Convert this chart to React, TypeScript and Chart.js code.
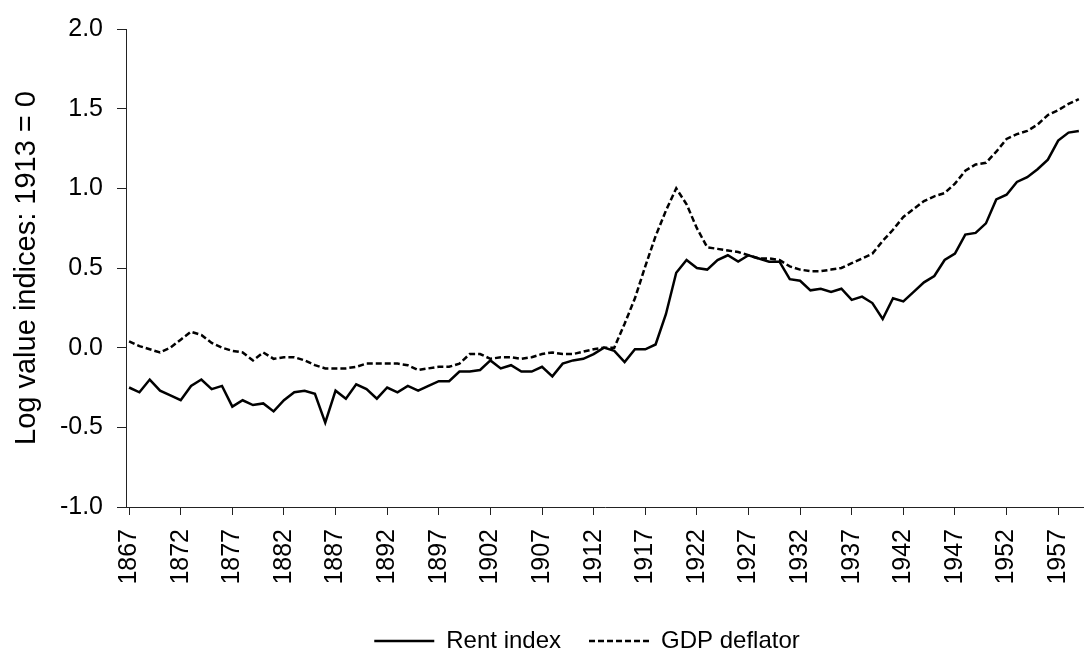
import React, { useEffect, useRef } from "react";
import { Chart, registerables } from "chart.js";

Chart.register(...registerables);

const years: number[] = Array.from({ length: 93 }, (_, i) => 1867 + i);

const rentIndex: number[] = [
  -0.25, -0.28, -0.2, -0.27, -0.3, -0.33, -0.24, -0.2, -0.26, -0.24,
  -0.37, -0.33, -0.36, -0.35, -0.4, -0.33, -0.28, -0.27, -0.29, -0.47,
  -0.27, -0.32, -0.23, -0.26, -0.32, -0.25, -0.28, -0.24, -0.27, -0.24,
  -0.21, -0.21, -0.15, -0.15, -0.14, -0.08, -0.13, -0.11, -0.15, -0.15,
  -0.12, -0.18, -0.1, -0.08, -0.07, -0.04, 0.0, -0.02, -0.09, -0.01,
  -0.01, 0.02, 0.21, 0.47, 0.55, 0.5, 0.49, 0.55, 0.58, 0.54,
  0.58, 0.56, 0.54, 0.54, 0.43, 0.42, 0.36, 0.37, 0.35, 0.37,
  0.3, 0.32, 0.28, 0.18, 0.31, 0.29, 0.35, 0.41, 0.45, 0.55,
  0.59, 0.71, 0.72, 0.78, 0.93, 0.96, 1.04, 1.07, 1.12, 1.18,
  1.3, 1.35, 1.36,
];

const gdpDeflator: number[] = [
  0.04, 0.01, -0.01, -0.03, 0.0, 0.05, 0.1, 0.08, 0.03, 0.0,
  -0.02, -0.03, -0.08, -0.03, -0.07, -0.06, -0.06, -0.08, -0.11, -0.13,
  -0.13, -0.13, -0.12, -0.1, -0.1, -0.1, -0.1, -0.11, -0.14, -0.13,
  -0.12, -0.12, -0.1, -0.04, -0.04, -0.07, -0.06, -0.06, -0.07, -0.06,
  -0.04, -0.03, -0.04, -0.04, -0.025, -0.01, 0.0, 0.0, 0.15, 0.31,
  0.51, 0.7, 0.86, 1.0, 0.9, 0.75, 0.63, 0.62, 0.61, 0.6,
  0.58, 0.56, 0.56, 0.55, 0.51, 0.49, 0.48, 0.48, 0.49, 0.5,
  0.53, 0.56, 0.59, 0.67, 0.74, 0.82, 0.87, 0.92, 0.95, 0.97,
  1.03, 1.11, 1.15, 1.16, 1.23, 1.31, 1.34, 1.36, 1.4, 1.46,
  1.49, 1.53, 1.56,
];

const xTickYears: number[] = [
  1867, 1872, 1877, 1882, 1887, 1892, 1897, 1902, 1907, 1912,
  1917, 1922, 1927, 1932, 1937, 1942, 1947, 1952, 1957,
];

const seriesNames = ["Rent index", "GDP deflator"];
const seriesDash: number[][] = [[], [6, 3]];
const yAxisTitle = "Log value indices: 1913 = 0";

const FONT = "'Liberation Sans', Arial, sans-serif";

export default function App() {
  const ref = useRef<HTMLCanvasElement>(null);

  useEffect(() => {
    if (!ref.current) return;
    Chart.defaults.font.family = FONT;
    Chart.defaults.color = "#000";
    const chart = new Chart(ref.current, {
      type: "line",
      data: {
        datasets: [
          {
            label: seriesNames[0],
            data: years.map((y, i) => ({ x: y, y: rentIndex[i] })),
            borderColor: "#000",
            backgroundColor: "#000",
            borderWidth: 2.5,
            borderDash: seriesDash[0],
            pointRadius: 0,
            tension: 0,
          },
          {
            label: seriesNames[1],
            data: years.map((y, i) => ({ x: y, y: gdpDeflator[i] })),
            borderColor: "#000",
            backgroundColor: "#000",
            borderWidth: 2.5,
            borderDash: seriesDash[1],
            pointRadius: 0,
            tension: 0,
          },
        ],
      },
      options: {
        responsive: false,
        animation: false,
        layout: { padding: { top: 21, right: 0, bottom: 0, left: 0 } },
        plugins: {
          tooltip: { enabled: false },
          legend: {
            position: "bottom",
            labels: {
              usePointStyle: true,
              pointStyle: "line",
              pointStyleWidth: 60,
              padding: 28,
              color: "#000",
              font: { size: 24, family: FONT },
              generateLabels: (c: any) => {
                const base = (Chart as any).defaults.plugins.legend.labels.generateLabels(c);
                return base.map((it: any, i: number) => ({
                  ...it,
                  lineDash: seriesDash[i],
                  lineWidth: 2.5,
                  strokeStyle: "#000",
                  fillStyle: "#000",
                  pointStyle: "line",
                }));
              },
            },
          },
        },
        scales: {
          x: {
            type: "linear",
            min: 1866.7,
            max: 1959.5,
            afterBuildTicks: (scale: any) => {
              scale.ticks = xTickYears.map((v) => ({ value: v }));
            },
            afterFit: (scale: any) => {
              scale.height = 94;
            },
            ticks: {
              autoSkip: false,
              minRotation: 90,
              maxRotation: 90,
              padding: 14,
              color: "#000",
              font: { size: 25, family: FONT },
              callback: (v: any) => String(v),
            },
            grid: {
              drawOnChartArea: false,
              drawTicks: true,
              tickLength: 8,
              color: "#222",
            },
            border: { display: true, color: "#222", width: 1 },
          },
          y: {
            min: -1,
            max: 2,
            afterFit: (scale: any) => {
              scale.width = 126;
            },
            ticks: {
              stepSize: 0.5,
              padding: 14,
              color: "#000",
              font: { size: 25, family: FONT },
              callback: (v: any) => Number(v).toFixed(1),
            },
            grid: {
              drawOnChartArea: false,
              drawTicks: true,
              tickLength: 9,
              color: "#222",
            },
            border: { display: true, color: "#222", width: 1 },
            title: {
              display: true,
              text: yAxisTitle,
              color: "#000",
              font: { size: 29, family: FONT },
              padding: { top: 10, bottom: 0 },
            },
          },
          yRightSpacer: {
            position: "right",
            min: -1,
            max: 2,
            afterFit: (scale: any) => {
              scale.width = 90;
            },
            ticks: { display: false },
            grid: { display: false, drawOnChartArea: false, drawTicks: false },
            border: { display: false },
          },
        },
      },
    });
    return () => chart.destroy();
  }, []);

  return (
    <div
      style={{
        position: "absolute",
        left: 0,
        top: 0,
        width: 1084,
        height: 652,
        overflow: "hidden",
        background: "#fff",
      }}
    >
      <canvas ref={ref} width={1174} height={663} style={{ display: "block" }} />
    </div>
  );
}
